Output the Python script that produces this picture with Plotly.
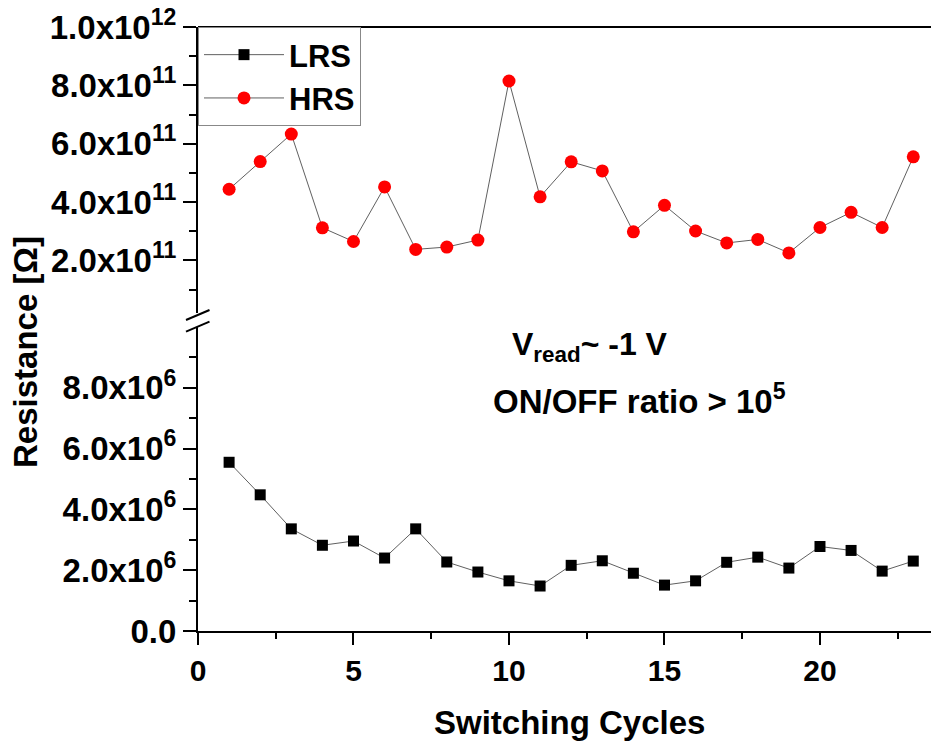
import plotly.graph_objects as go

# Resistance read at each switching cycle
cycles = list(range(1, 24))
lrs = [5.55e6, 4.48e6, 3.36e6, 2.82e6, 2.96e6, 2.40e6, 3.36e6, 2.27e6, 1.94e6,
       1.65e6, 1.48e6, 2.16e6, 2.31e6, 1.90e6, 1.51e6, 1.65e6, 2.26e6, 2.43e6,
       2.07e6, 2.78e6, 2.65e6, 1.97e6, 2.30e6]
hrs = [4.44e11, 5.39e11, 6.33e11, 3.12e11, 2.65e11, 4.52e11, 2.38e11, 2.46e11,
       2.70e11, 8.15e11, 4.18e11, 5.38e11, 5.07e11, 2.98e11, 3.89e11, 3.01e11,
       2.60e11, 2.72e11, 2.26e11, 3.13e11, 3.65e11, 3.13e11, 5.55e11]

# Axis ticks
x_ticks = [0, 5, 10, 15, 20]
x_minor = [2.5, 7.5, 12.5, 17.5, 22.5]
low_ticks = [0, 2e6, 4e6, 6e6, 8e6]
low_labels = ["0.0", "2.0x10<sup>6</sup>", "4.0x10<sup>6</sup>",
              "6.0x10<sup>6</sup>", "8.0x10<sup>6</sup>"]
low_minor = [1e6, 3e6, 5e6, 7e6, 9e6]
high_ticks = [2e11, 4e11, 6e11, 8e11, 1e12]
high_labels = ["2.0x10<sup>11</sup>", "4.0x10<sup>11</sup>", "6.0x10<sup>11</sup>",
               "8.0x10<sup>11</sup>", "1.0x10<sup>12</sup>"]
high_minor = [1e11, 3e11, 5e11, 7e11, 9e11]

W, H = 931, 745
ML, MR, MT, MB = 198, 0, 27, 114
PW, PH = W - ML - MR, H - MT - MB

low_dom = [0, (H - MB - 327) / PH]
high_dom = [(H - MB - 313) / PH, 1]

FONT = "Liberation Sans, Arial, sans-serif"
LINE = "#606060"

fig = go.Figure()
fig.add_trace(go.Scatter(
    x=cycles, y=lrs, name="LRS", mode="lines+markers",
    line=dict(color=LINE, width=1),
    marker=dict(symbol="square", size=11, color="black"),
    xaxis="x", yaxis="y"))
fig.add_trace(go.Scatter(
    x=cycles, y=hrs, name="HRS", mode="lines+markers",
    line=dict(color=LINE, width=1),
    marker=dict(symbol="circle", size=13, color="#ff0000"),
    xaxis="x", yaxis="y2"))

axis_common = dict(
    showline=True, linecolor="black", linewidth=2,
    ticks="outside", tickwidth=2, tickcolor="black",
    showgrid=False, zeroline=False,
)

fig.update_layout(
    width=W, height=H,
    margin=dict(l=ML, r=MR, t=MT, b=MB),
    paper_bgcolor="white", plot_bgcolor="white",
    font=dict(family=FONT, color="black", weight="bold"),
    xaxis=dict(
        **axis_common, range=[0, 23.57], anchor="y", ticklen=12,
        tickmode="array", tickvals=x_ticks, ticktext=[str(v) for v in x_ticks],
        tickfont=dict(size=30, family=FONT, weight="bold"),
        minor=dict(tickmode="array", tickvals=x_minor, ticklen=6,
                   tickwidth=2, tickcolor="black", ticks="outside"),
    ),
    yaxis=dict(
        **axis_common, domain=low_dom, range=[0, 1e7], anchor="x", ticklen=13,
        tickmode="array", tickvals=low_ticks, ticktext=low_labels,
        tickfont=dict(size=33, family=FONT, weight="bold"),
        minor=dict(tickmode="array", tickvals=low_minor, ticklen=7,
                   tickwidth=2, tickcolor="black", ticks="outside"),
    ),
    yaxis2=dict(
        **axis_common, domain=high_dom, range=[2e10, 1e12], anchor="x", ticklen=13,
        tickmode="array", tickvals=high_ticks, ticktext=high_labels,
        tickfont=dict(size=33, family=FONT, weight="bold"),
        minor=dict(tickmode="array", tickvals=high_minor, ticklen=7,
                   tickwidth=2, tickcolor="black", ticks="outside"),
    ),
    legend=dict(
        x=0, y=1, xanchor="left", yanchor="top",
        bgcolor="white", bordercolor="#888888", borderwidth=1,
        font=dict(size=31, family=FONT, weight="bold"),
        itemwidth=80, tracegroupgap=0,
    ),
    showlegend=True,
)


def px_x(p):
    return (p - ML) / PW


def px_y(p):
    return (H - MB - p) / PH


# top frame line
fig.add_shape(type="line", xref="paper", yref="paper", x0=0, x1=1, y0=1, y1=1,
              line=dict(color="black", width=2))

# axis break marks
for y0, y1 in [(320, 310), (331.7, 321.7)]:
    fig.add_shape(type="line", xref="paper", yref="paper",
                  x0=px_x(186), x1=px_x(209.5), y0=px_y(y0), y1=px_y(y1),
                  line=dict(color="black", width=2))

# axis titles
fig.add_annotation(text="Resistance [Ω]", xref="paper", yref="paper",
                   x=px_x(25), y=px_y(352), textangle=-90, showarrow=False,
                   xanchor="center", yanchor="middle",
                   font=dict(size=33, family=FONT, weight="bold"))
fig.add_annotation(text="Switching Cycles", xref="paper", yref="paper",
                   x=px_x(569), y=px_y(722), showarrow=False,
                   xanchor="center", yanchor="middle",
                   font=dict(size=33, family=FONT, weight="bold"))

# measurement notes
fig.add_annotation(text="V<sub>read</sub>~ -1 V", xref="paper", yref="paper",
                   x=px_x(510), y=px_y(346), showarrow=False,
                   xanchor="left", yanchor="middle",
                   font=dict(size=32, family=FONT, weight="bold"))
fig.add_annotation(text="ON/OFF ratio > 10<sup>5</sup>", xref="paper", yref="paper",
                   x=px_x(491), y=px_y(399), showarrow=False,
                   xanchor="left", yanchor="middle",
                   font=dict(size=33, family=FONT, weight="bold"))

fig.write_html("out.html")
